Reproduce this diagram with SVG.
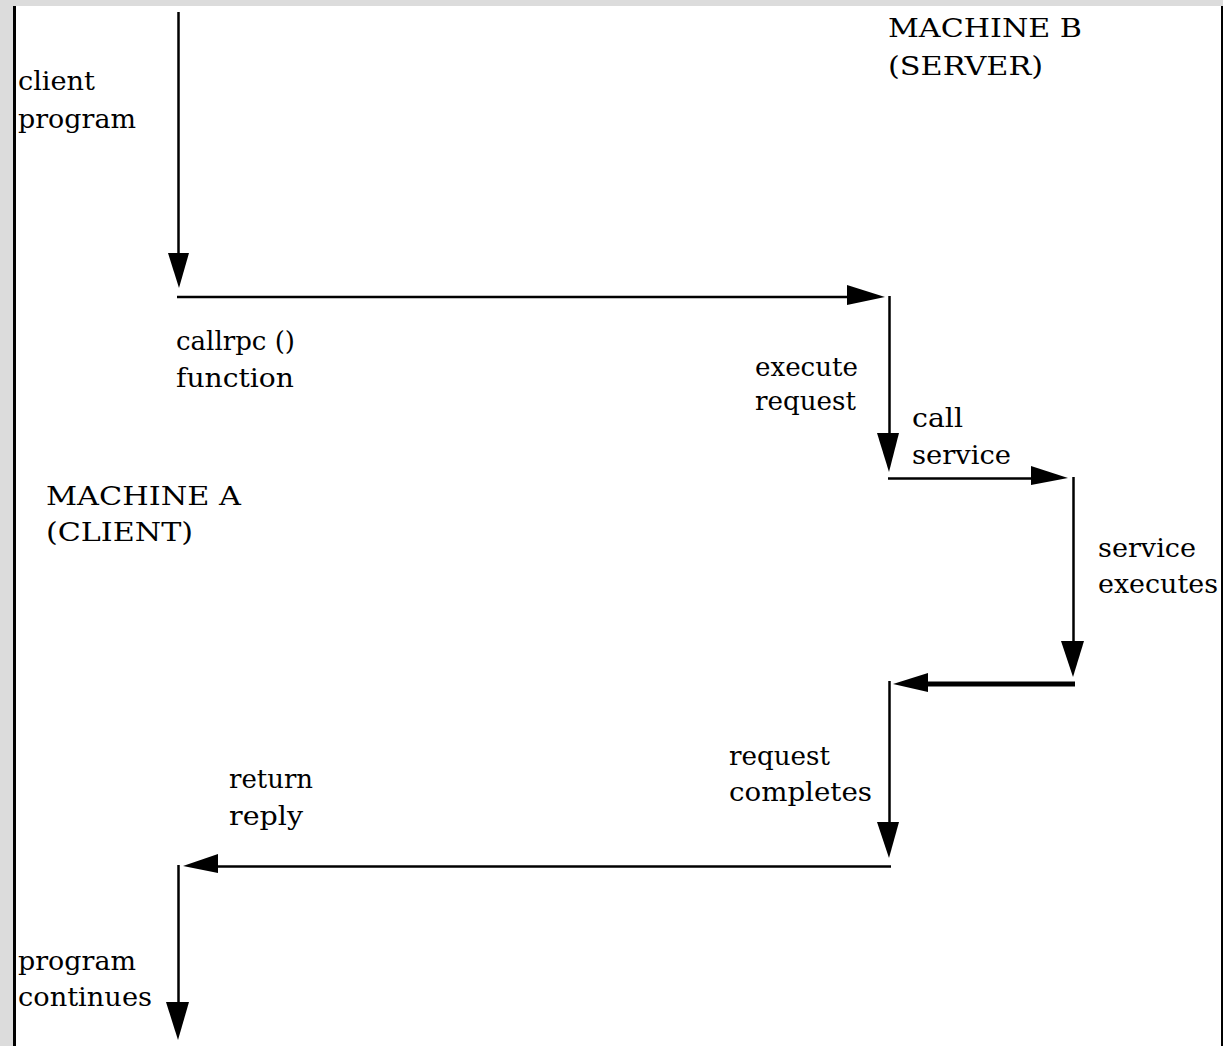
<svg xmlns="http://www.w3.org/2000/svg" width="1223" height="1046" viewBox="0 0 1223 1046">
<style>
  text { font-family: "DejaVu Serif", "Liberation Serif", serif; font-size: 26px; fill: #000; }
  .ln { stroke: #000; stroke-width: 2.5; fill: none; }
  .thick { stroke-width: 5; }
  .ah { fill: #000; }
</style>
<rect x="0" y="0" width="1223" height="1046" fill="#ffffff"/>
<rect x="0" y="0" width="1223" height="6" fill="#dcdcdc"/>
<rect x="0" y="0" width="13" height="1046" fill="#dcdcdc"/>
<rect x="13" y="6" width="3" height="1040" fill="#000"/>
<rect x="1221" y="6" width="2" height="1040" fill="#000"/>

<g id="connectors">
  <line class="ln" x1="178.5" y1="12" x2="178.5" y2="270"/>
  <polygon class="ah" points="168,253 189,253 179,288"/>
  <line class="ln" x1="177" y1="297" x2="870" y2="297"/>
  <polygon class="ah" points="847,285 847,305 885,297"/>
  <line class="ln" x1="889.5" y1="296" x2="889.5" y2="455"/>
  <polygon class="ah" points="877,433 899,433 889,472"/>
  <line class="ln" x1="888" y1="478.5" x2="1050" y2="478.5"/>
  <polygon class="ah" points="1031,466 1031,485 1068,478"/>
  <line class="ln" x1="1073.5" y1="477" x2="1073.5" y2="660"/>
  <polygon class="ah" points="1061,641 1084,641 1073,677"/>
  <line class="ln thick" x1="910" y1="684" x2="1075" y2="684"/>
  <polygon class="ah" points="928,673 928,692 893,684"/>
  <line class="ln" x1="889.5" y1="681" x2="889.5" y2="840"/>
  <polygon class="ah" points="877,822 899,822 889,858"/>
  <line class="ln" x1="200" y1="866.5" x2="891" y2="866.5"/>
  <polygon class="ah" points="218,854 218,873 183,866"/>
  <line class="ln" x1="178.5" y1="865" x2="178.5" y2="1020"/>
  <polygon class="ah" points="166,1002 189,1002 178,1040"/>
</g>

<g id="client-program">
  <text x="18" y="90" textLength="77" lengthAdjust="spacingAndGlyphs">client</text>
  <text x="18" y="128" textLength="118" lengthAdjust="spacingAndGlyphs">program</text>
</g>
<g id="machine-b">
  <text x="888" y="37" textLength="194" lengthAdjust="spacingAndGlyphs">MACHINE B</text>
  <text x="888" y="75" textLength="155" lengthAdjust="spacingAndGlyphs">(SERVER)</text>
</g>
<g id="callrpc">
  <text x="176" y="350" textLength="119" lengthAdjust="spacingAndGlyphs">callrpc ()</text>
  <text x="176" y="387" textLength="118" lengthAdjust="spacingAndGlyphs">function</text>
</g>
<g id="execute-request">
  <text x="755" y="376" textLength="103" lengthAdjust="spacingAndGlyphs">execute</text>
  <text x="755" y="410" textLength="101" lengthAdjust="spacingAndGlyphs">request</text>
</g>
<g id="call-service">
  <text x="912" y="427" textLength="51" lengthAdjust="spacingAndGlyphs">call</text>
  <text x="912" y="464" textLength="99" lengthAdjust="spacingAndGlyphs">service</text>
</g>
<g id="machine-a">
  <text x="46" y="505" textLength="195" lengthAdjust="spacingAndGlyphs">MACHINE A</text>
  <text x="46" y="541" textLength="147" lengthAdjust="spacingAndGlyphs">(CLIENT)</text>
</g>
<g id="service-executes">
  <text x="1098" y="557" textLength="98" lengthAdjust="spacingAndGlyphs">service</text>
  <text x="1098" y="593" textLength="120" lengthAdjust="spacingAndGlyphs">executes</text>
</g>
<g id="request-completes">
  <text x="729" y="765" textLength="101" lengthAdjust="spacingAndGlyphs">request</text>
  <text x="729" y="801" textLength="143" lengthAdjust="spacingAndGlyphs">completes</text>
</g>
<g id="return-reply">
  <text x="229" y="788" textLength="84" lengthAdjust="spacingAndGlyphs">return</text>
  <text x="229" y="825" textLength="74" lengthAdjust="spacingAndGlyphs">reply</text>
</g>
<g id="program-continues">
  <text x="18" y="970" textLength="118" lengthAdjust="spacingAndGlyphs">program</text>
  <text x="18" y="1006" textLength="134" lengthAdjust="spacingAndGlyphs">continues</text>
</g>
</svg>
